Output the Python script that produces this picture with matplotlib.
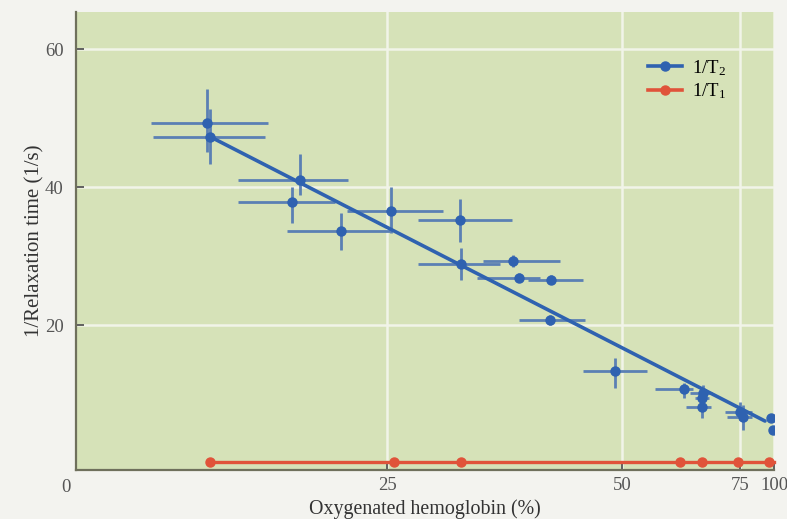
import numpy as np
import matplotlib
matplotlib.use("Agg")
import matplotlib.pyplot as plt
from matplotlib.lines import Line2D

plt.rcParams['font.family'] = ['Liberation Serif', 'DejaVu Serif']
plt.rcParams['mathtext.fontset'] = 'custom'
plt.rcParams['mathtext.rm'] = 'Liberation Serif'
plt.rcParams['mathtext.it'] = 'Liberation Serif:italic'

# ---- data (x in % oxygenated hemoglobin, y in 1/s) ----
t2_x    = [10.5, 10.8, 18.0, 17.4, 21.3, 25.4, 32.8, 32.9, 38.4, 39.0, 42.5, 42.4, 49.3, 63.2, 67.1, 66.9, 67.0, 75.0, 77.0, 98.0, 99.0]
t2_y    = [49.3, 47.3, 41.0, 37.9, 33.7, 36.5, 35.2, 28.8, 29.3, 26.9, 26.6, 20.7, 13.3, 10.7, 10.2, 9.4, 8.1, 7.4, 6.7, 6.5, 4.8]
t2_xlo  = [6.0, 6.2, 13.0, 13.0, 17.0, 21.8, 28.3, 28.3, 35.2, 34.6, 40.0, 39.1, 45.9, 57.0, 64.4, 65.5, 63.7, 71.8, 72.2, 98.0, 99.0]
t2_xhi  = [15.4, 15.2, 21.9, 20.8, 25.3, 31.0, 38.3, 37.0, 43.4, 41.3, 45.9, 46.1, 55.3, 65.0, 69.1, 68.5, 69.0, 83.6, 83.6, 98.0, 99.0]
t2_ylo  = [45.1, 43.3, 38.8, 34.8, 30.9, 33.3, 32.0, 26.5, 28.5, 26.2, 25.9, 20.0, 10.9, 9.4, 9.1, 8.7, 6.5, 6.2, 4.8, 6.5, 4.8]
t2_yhi  = [54.2, 51.4, 44.8, 40.0, 36.2, 40.0, 38.3, 31.2, 30.1, 27.6, 27.3, 21.4, 15.2, 11.6, 11.3, 10.1, 9.6, 8.8, 8.4, 6.5, 4.8]

fit_x = [10.8, 93.4]
fit_y = [47.3, 6.1]

t1_x = [10.8, 25.7, 32.9, 62.3, 66.9, 74.6, 96.3, 100.0]
t1_y = [0.1, 0.1, 0.1, 0.1, 0.1, 0.1, 0.1, 0.1]
t1_marker_count = 7

xticks = [25, 50, 75, 100]
xticklabels = ['25', '50', '75', '100']
yticks = [20, 40, 60]
yticklabels = ['20', '40', '60']

# ---- nonlinear x scale of the original figure (anchored on its ticks) ----
scale_pct = [-10, 0, 25, 50, 75, 100, 110]
scale_pos = [-0.178, 0.0, 0.4456, 0.782, 0.951, 1.0, 1.0196]
def fwd(v):
    return np.interp(v, scale_pct, scale_pos)
def inv(v):
    return np.interp(v, scale_pos, scale_pct)

BLUE = '#2f62b0'
EBLUE = '#5b80b4'
RED = '#e0533a'
GREEN = '#d6e2b8'

fig = plt.figure(figsize=(7.87, 5.19), dpi=100, facecolor='#f3f3ef')
ax = fig.add_axes([76/787, 49/519, 698/787, 458/519])
ax.set_facecolor(GREEN)
ax.set_xscale('function', functions=(fwd, inv))
ax.set_xlim(0, 100)
ax.set_ylim(-1.0, 65.4)

ax.grid(True, color='#f1f4e8', lw=1.8)
ax.set_axisbelow(True)

x = np.array(t2_x); y = np.array(t2_y)
xerr = [x - np.array(t2_xlo), np.array(t2_xhi) - x]
yerr = [y - np.array(t2_ylo), np.array(t2_yhi) - y]
ax.errorbar(x, y, xerr=xerr, yerr=yerr, fmt='none', ecolor=EBLUE, elinewidth=2.0, capsize=0, zorder=3)
ax.plot(fit_x, fit_y, color=BLUE, lw=2.6, zorder=4, solid_capstyle='round')
ax.plot(x, y, 'o', color=BLUE, ms=6.5, mec=BLUE, zorder=5)

ax.plot(t1_x, t1_y, '-', color=RED, lw=2.4, zorder=4, clip_on=False)
ax.plot(t1_x[:t1_marker_count], t1_y[:t1_marker_count], 'o', color=RED, ms=6.5, zorder=5)

for s in ['top', 'right']:
    ax.spines[s].set_visible(False)
for s in ['left', 'bottom']:
    ax.spines[s].set_color('#6f705c')
    ax.spines[s].set_linewidth(1.6)

ax.set_xticks(xticks)
ax.set_xticklabels(xticklabels)
ax.set_yticks(yticks)
ax.set_yticklabels(yticklabels)
ax.tick_params(axis='both', direction='in', colors='#555555', labelsize=13.5, width=1.3)
ax.tick_params(axis='y', length=6, pad=9)
ax.tick_params(axis='x', length=4, pad=5)
ax.minorticks_off()
ax.annotate('0', xy=(0, 0), xycoords='axes fraction', xytext=(-10, -17),
            textcoords='offset pixels', ha='center', va='center', fontsize=13.5, color='#555555')

ax.set_xlabel('Oxygenated hemoglobin (%)', fontsize=14.4, color='#333333', labelpad=4)
ax.set_ylabel('1/Relaxation time (1/s)', fontsize=15, color='#333333', labelpad=0)

handles = [Line2D([], [], color=BLUE, lw=2.6, marker='o', ms=6.5),
           Line2D([], [], color=RED, lw=2.6, marker='o', ms=6.5)]
ax.legend(handles, ['1/T$_2$', '1/T$_1$'], loc='upper left', bbox_to_anchor=(0.8195, 0.90),
          frameon=False, fontsize=13.5, handlelength=1.8, handletextpad=0.55,
          labelspacing=0.2, borderpad=0, borderaxespad=0)

fig.savefig('out.png', dpi=100, facecolor=fig.get_facecolor())
